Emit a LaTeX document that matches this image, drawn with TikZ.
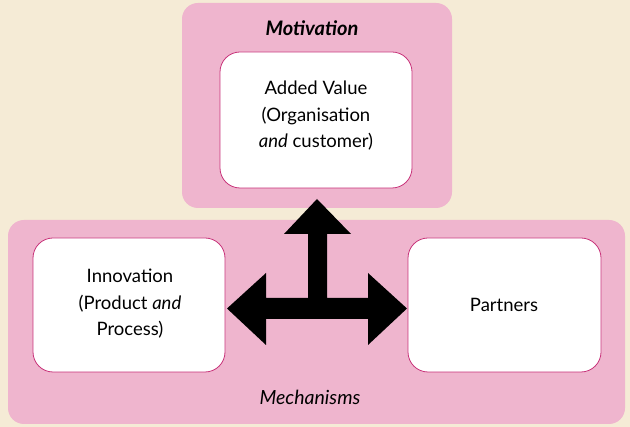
\documentclass[tikz,border=0pt]{standalone}
\usepackage{fontspec}
\setmainfont{Lato}
\definecolor{bgc}{HTML}{F5EBD6}
\definecolor{pinkc}{HTML}{EFB5CE}
\definecolor{edgec}{HTML}{C8337A}
\begin{document}
\begin{tikzpicture}[x=1pt,y=-1pt,
  panel/.style={fill=pinkc,draw=none,rounded corners=16pt},
  wbox/.style={fill=white,draw=edgec,line width=0.8pt,rounded corners=20pt},
  lbl/.style={font=\fontsize{18.5}{26.5}\selectfont,align=center,inner sep=0pt}]
\fill[bgc] (0,0) rectangle (630,427);
\useasboundingbox (0,0) rectangle (630,427);
\fill[panel] (182,3) rectangle (452,208);
\fill[panel] (8,220) rectangle (625,424);
\draw[wbox] (220,52) rectangle (412,188);
\draw[wbox] (33,238) rectangle (225,372);
\draw[wbox] (408,238) rectangle (601,372);
\node[lbl,font=\fontsize{20}{26}\selectfont\bfseries\itshape] (mot) at (312,28) {Motivation};
\node[lbl] (av) at (316,116) {Added Value\\(Organisation\\\textit{and} customer)};
\node[lbl] (inn) at (130,304) {Innovation\\(Product \textit{and}\\Process)};
\node[lbl] (par) at (504,305) {Partners};
\node[lbl,font=\fontsize{19.5}{26}\selectfont\itshape] (mech) at (310,397) {Mechanisms};
\fill[black] (317,199) -- (351,234) -- (327,234) -- (327,298) -- (368,298) -- (368,273)
  -- (407,308.5) -- (368,345) -- (368,319) -- (266,319) -- (266,345) -- (227,308.5)
  -- (266,273) -- (266,298) -- (308,298) -- (308,234) -- (284,234) -- cycle;
\end{tikzpicture}
\end{document}
